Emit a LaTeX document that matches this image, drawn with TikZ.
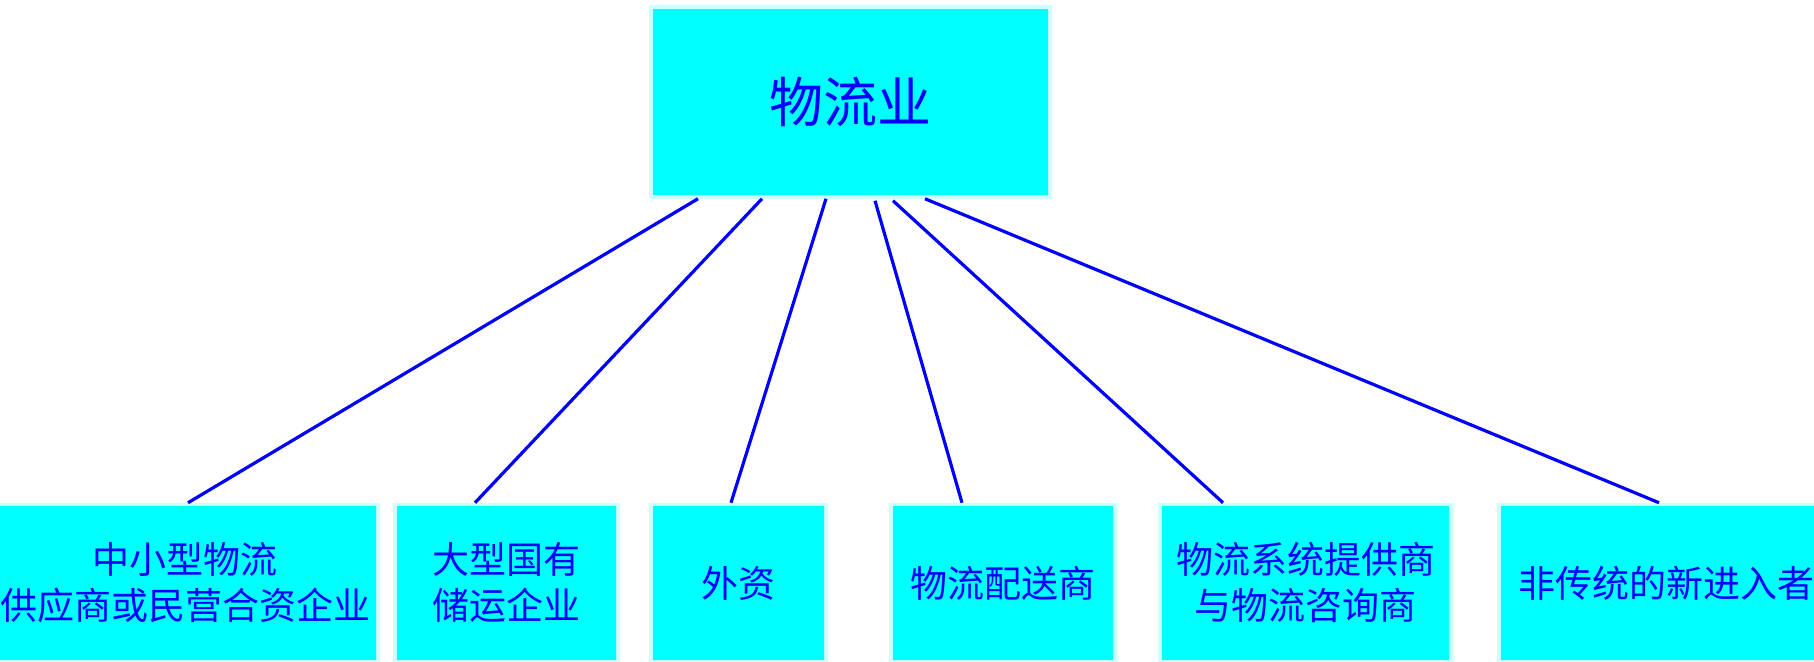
\documentclass[tikz,border=0pt]{standalone}
\usepackage{fontspec}
\usepackage{xcolor}
\newfontfamily\cjk{Noto Sans CJK SC}
\definecolor{boxfill}{RGB}{0,255,255}
\definecolor{boxrim}{RGB}{204,255,255}
\definecolor{linkblue}{RGB}{0,0,255}
\tikzset{
	sector/.style={draw=boxrim,fill=boxfill,line width=1.75pt,rectangle,align=center,
		text=linkblue,inner sep=0pt,minimum height=78.5pt,
		font=\cjk\fontsize{18.5}{23}\selectfont},
	link/.style={draw=linkblue,line width=1.6pt}
}

\begin{document}
\begin{tikzpicture}[x=0.5pt,y=-0.5pt]

\path[use as bounding box,clip] (0,0) rectangle (1814,662);
%
\node[sector,minimum width=199.5pt,minimum height=95pt,font=\cjk\fontsize{27}{30}\selectfont] (top) at (850.5,102){物流业};
\node[sector,minimum width=193pt] (b1) at (185,583){中小型物流\\供应商或民营合资企业};
\node[sector,minimum width=111.5pt] (b2) at (506.5,583){大型国有\\储运企业};
\node[sector,minimum width=87.5pt] (b3) at (738.5,583){外资};
\node[sector,minimum width=112pt] (b4) at (1003,583){物流配送商};
\node[sector,minimum width=145.5pt] (b5) at (1305.5,583){物流系统提供商\\与物流咨询商};
\node[sector,minimum width=167pt] (b6) at (1666,583){非传统的新进入者};
%
\draw[link] ([xshift=-76.25pt]top.south) -- ([xshift=1.5pt]b1.north);
\draw[link] ([xshift=-44.25pt]top.south) -- ([xshift=-15.75pt]b2.north);
\draw[link] ([xshift=-12.25pt]top.south) -- ([xshift=-3.75pt]b3.north);
\draw[link] ([xshift=12.25pt,yshift=-1pt]top.south) -- ([xshift=-20.5pt]b4.north);
\draw[link] ([xshift=21.25pt,yshift=-1pt]top.south) -- ([xshift=-41.25pt]b5.north);
\draw[link] ([xshift=37.25pt]top.south) -- ([xshift=-3.5pt]b6.north);
%\draw[link] (top) -- (b6);

\end{tikzpicture}
\end{document}
